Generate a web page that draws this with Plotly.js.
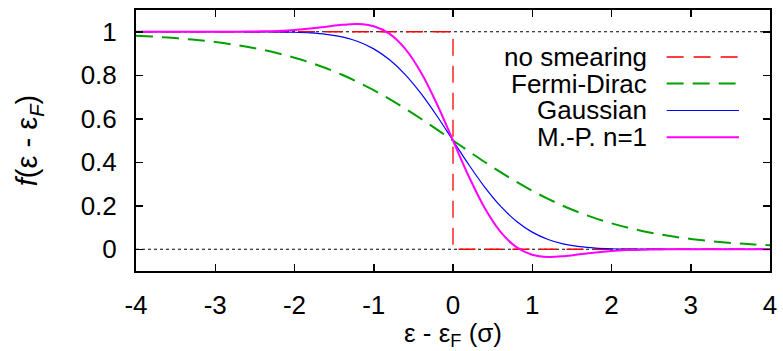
<!DOCTYPE html>
<html>
<head>
<meta charset="utf-8">
<script src="https://cdn.plot.ly/plotly-3.0.1.min.js"></script>
<style>
  html, body { margin: 0; padding: 0; background: #fff; }
  #plot { width: 783px; height: 351px; }
</style>
</head>
<body>
<div id="plot"></div>
<script>
// Energy grid, in units of the smearing width sigma
const energy = [
  -4.0, -3.8, -3.6, -3.4, -3.2, -3.0, -2.8, -2.6, -2.4, -2.2,
  -2.0, -1.8, -1.6, -1.4, -1.2, -1.0, -0.8, -0.6, -0.4, -0.2,
   0.0,  0.2,  0.4,  0.6,  0.8,  1.0,  1.2,  1.4,  1.6,  1.8,
   2.0,  2.2,  2.4,  2.6,  2.8,  3.0,  3.2,  3.4,  3.6,  3.8, 4.0
];

// Occupation for each smearing scheme
const fermiDirac = [
  0.98201, 0.97812, 0.97340, 0.96770, 0.96083, 0.95257, 0.94268, 0.93086, 0.91683, 0.90025,
  0.88080, 0.85815, 0.83202, 0.80218, 0.76852, 0.73106, 0.68997, 0.64566, 0.59869, 0.54983,
  0.50000, 0.45017, 0.40131, 0.35434, 0.31003, 0.26894, 0.23148, 0.19782, 0.16798, 0.14185,
  0.11920, 0.09975, 0.08317, 0.06914, 0.05732, 0.04743, 0.03917, 0.03230, 0.02660, 0.02188, 0.01799
];

const gaussian = [
  1.00000, 1.00000, 1.00000, 1.00000, 1.00000, 0.99999, 0.99996, 0.99988, 0.99966, 0.99907,
  0.99766, 0.99455, 0.98817, 0.97614, 0.95516, 0.92135, 0.87105, 0.80193, 0.71420, 0.61135,
  0.50000, 0.38865, 0.28580, 0.19807, 0.12895, 0.07865, 0.04484, 0.02386, 0.01183, 0.00545,
  0.00234, 0.00093, 0.00034, 0.00012, 0.00004, 0.00001, 0.00000, 0.00000, 0.00000, 0.00000, 0.00000
];

const methfesselPaxton = [
  1.00000, 1.00000, 1.00000, 1.00000, 1.00003, 1.00009, 1.00027, 1.00073, 1.00179, 1.00398,
  1.00799, 1.01444, 1.02306, 1.03177, 1.03536, 1.02513, 0.99005, 0.92002, 0.81035, 0.66556,
  0.50000, 0.33444, 0.18965, 0.07998, 0.00995, -0.02513, -0.03536, -0.03177, -0.02306, -0.01444,
  -0.00799, -0.00398, -0.00179, -0.00073, -0.00027, -0.00009, -0.00003, 0.00000, 0.00000, 0.00000, 0.00000
];

// Sharp step of the unsmeared occupation
const stepEnergy = [-4, 0, 0, 4];
const stepOccupation = [1, 1, 0, 0];

const seriesNames = ['no smearing', 'Fermi-Dirac', 'Gaussian', 'M.-P. n=1'];
const yTicks = [0, 0.2, 0.4, 0.6, 0.8, 1];
const yTickText = ['0', '0.2', '0.4', '0.6', '0.8', '1'];
const xTicks = [-4, -3, -2, -1, 0, 1, 2, 3, 4];

const styles = [
  { color: '#ff0000', width: 1.3, dash: '17px,10px' },
  { color: '#00a000', width: 2,   dash: '17px,9px' },
  { color: '#0000ff', width: 1.2, dash: 'solid' },
  { color: '#ff00ff', width: 2,   dash: 'solid' }
];

const traces = [
  { x: stepEnergy, y: stepOccupation, mode: 'lines', line: styles[0] },
  { x: energy, y: fermiDirac, mode: 'lines', line: Object.assign({ shape: 'spline' }, styles[1]) },
  { x: energy, y: gaussian, mode: 'lines', line: Object.assign({ shape: 'spline' }, styles[2]) },
  { x: energy, y: methfesselPaxton, mode: 'lines', line: Object.assign({ shape: 'spline' }, styles[3]) }
].map((t, i) => Object.assign(t, { name: seriesNames[i], showlegend: false, hoverinfo: 'skip' }));

// Key in the upper right: right-aligned labels with line samples after them
const keyTextX = 0.807;
const keySampleX0 = 0.837, keySampleX1 = 0.951;
const keyRowsY = [0.820, 0.718, 0.615, 0.512];

const font = { family: 'Liberation Sans, Arial, sans-serif', size: 26, color: '#000' };

const annotations = seriesNames.map((name, i) => ({
  text: name, xref: 'paper', yref: 'paper', x: keyTextX, y: keyRowsY[i],
  xanchor: 'right', yanchor: 'middle', showarrow: false, borderpad: 0, font: font
}));

const shapes = [
  // dotted guide lines at full and empty occupation
  { type: 'line', xref: 'paper', yref: 'y', x0: 0, x1: 1, y0: 0, y1: 0,
    line: { color: '#000', width: 1, dash: 'dot' }, layer: 'below' },
  { type: 'line', xref: 'paper', yref: 'y', x0: 0, x1: 1, y0: 1, y1: 1,
    line: { color: '#000', width: 1, dash: 'dot' }, layer: 'below' }
].concat(styles.map((s, i) => ({
  type: 'line', xref: 'paper', yref: 'paper',
  x0: keySampleX0, x1: keySampleX1, y0: keyRowsY[i], y1: keyRowsY[i],
  line: { color: s.color, width: s.width, dash: s.dash }
})));

const layout = {
  width: 783, height: 351,
  margin: { l: 136, r: 13, t: 10, b: 80 },
  paper_bgcolor: '#fff', plot_bgcolor: '#fff',
  font: font,
  showlegend: false,
  xaxis: {
    range: [-4, 4], tickvals: xTicks, ticktext: xTicks.map(String),
    ticks: 'inside', ticklen: 7, tickwidth: 1.5, tickcolor: '#000',
    showline: true, linecolor: '#000', linewidth: 2, mirror: 'ticks',
    showgrid: false, zeroline: false, ticklabelstandoff: 10,
    title: { text: 'ε - ε<sub>F</sub> (σ)', font: font, standoff: 9 },
    automargin: false
  },
  yaxis: {
    range: [-0.1, 1.1], tickvals: yTicks, ticktext: yTickText,
    ticks: 'inside', ticklen: 7, tickwidth: 1.5, tickcolor: '#000',
    showline: true, linecolor: '#000', linewidth: 2, mirror: 'ticks',
    showgrid: false, zeroline: false, ticklabelstandoff: 12,
    title: { text: '<i>f</i>(ε - ε<sub><i>F</i></sub>)',
             font: { family: font.family, size: 29, color: '#000' }, standoff: 34 },
    automargin: false
  },
  annotations: annotations,
  shapes: shapes
};

Plotly.newPlot('plot', traces, layout, { staticPlot: true, displayModeBar: false });
</script>
</body>
</html>
